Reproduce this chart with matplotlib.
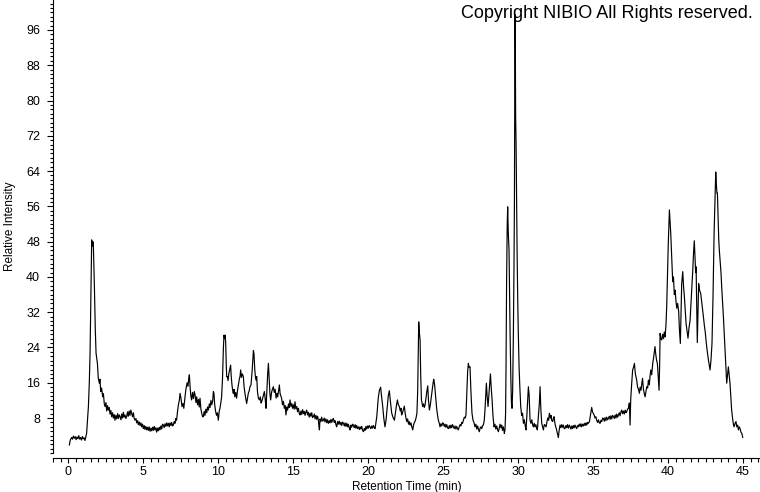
import matplotlib
matplotlib.use("Agg")
import matplotlib.pyplot as plt
from matplotlib.ticker import MultipleLocator, FixedLocator

plt.rcParams['font.family'] = ['Liberation Sans', 'DejaVu Sans']

# Chromatogram trace (time in min, relative intensity in %)
retention_time = [
    0.09, 0.15, 0.24, 0.30, 0.36, 0.42, 0.48, 0.54, 0.60, 0.66, 0.72, 0.78, 0.84, 0.90, 0.96, 1.02, 1.08, 1.13, 1.18, 1.24,
    1.30, 1.36, 1.42, 1.47, 1.52, 1.58, 1.62, 1.66, 1.69, 1.73, 1.76, 1.82, 1.87, 1.92, 1.96, 2.02, 2.09, 2.13, 2.18, 2.24,
    2.31, 2.36, 2.42, 2.47, 2.53, 2.58, 2.64, 2.69, 2.75, 2.80, 2.86, 2.91, 2.97, 3.02, 3.08, 3.13, 3.19, 3.25, 3.31, 3.36,
    3.42, 3.47, 3.53, 3.58, 3.64, 3.69, 3.75, 3.80, 3.86, 3.91, 3.97, 4.02, 4.08, 4.13, 4.19, 4.24, 4.30, 4.36, 4.41, 4.47,
    4.53, 4.58, 4.64, 4.69, 4.75, 4.80, 4.86, 4.91, 4.97, 5.02, 5.08, 5.13, 5.19, 5.25, 5.30, 5.36, 5.41, 5.47, 5.53, 5.58,
    5.64, 5.69, 5.75, 5.80, 5.86, 5.91, 5.97, 6.02, 6.08, 6.13, 6.19, 6.25, 6.30, 6.36, 6.41, 6.47, 6.53, 6.58, 6.64, 6.69,
    6.75, 6.80, 6.86, 6.91, 6.97, 7.02, 7.08, 7.13, 7.19, 7.24, 7.30, 7.36, 7.42, 7.47, 7.53, 7.60, 7.66, 7.72, 7.80, 7.86,
    7.94, 8.00, 8.05, 8.09, 8.14, 8.19, 8.24, 8.30, 8.36, 8.42, 8.47, 8.53, 8.58, 8.64, 8.70, 8.75, 8.80, 8.86, 8.92, 8.97,
    9.02, 9.08, 9.13, 9.19, 9.25, 9.30, 9.36, 9.42, 9.47, 9.53, 9.58, 9.64, 9.69, 9.73, 9.78, 9.84, 9.90, 9.96, 10.02, 10.08,
    10.13, 10.19, 10.24, 10.30, 10.36, 10.40, 10.44, 10.47, 10.51, 10.55, 10.58, 10.62, 10.67, 10.72, 10.78, 10.84, 10.88, 10.93, 10.98, 11.02,
    11.07, 11.12, 11.18, 11.24, 11.30, 11.36, 11.42, 11.47, 11.51, 11.56, 11.62, 11.69, 11.74, 11.80, 11.86, 11.91, 11.97, 12.02, 12.08, 12.13,
    12.20, 12.27, 12.32, 12.36, 12.40, 12.45, 12.49, 12.53, 12.58, 12.63, 12.69, 12.76, 12.82, 12.87, 12.91, 12.97, 13.03, 13.09, 13.15, 13.20,
    13.26, 13.31, 13.36, 13.41, 13.46, 13.51, 13.57, 13.63, 13.69, 13.75, 13.81, 13.87, 13.93, 13.98, 14.04, 14.09, 14.14, 14.19, 14.24, 14.30,
    14.36, 14.42, 14.48, 14.53, 14.59, 14.64, 14.70, 14.75, 14.80, 14.86, 14.92, 14.97, 15.03, 15.08, 15.13, 15.19, 15.25, 15.30, 15.36, 15.42,
    15.47, 15.53, 15.58, 15.64, 15.70, 15.75, 15.80, 15.86, 15.91, 15.97, 16.02, 16.08, 16.14, 16.19, 16.25, 16.30, 16.36, 16.42, 16.47, 16.53,
    16.58, 16.64, 16.69, 16.73, 16.76, 16.80, 16.86, 16.91, 16.97, 17.02, 17.08, 17.13, 17.19, 17.25, 17.30, 17.36, 17.42, 17.47, 17.53, 17.58,
    17.64, 17.69, 17.75, 17.80, 17.86, 17.91, 17.97, 18.02, 18.08, 18.14, 18.19, 18.25, 18.30, 18.36, 18.42, 18.47, 18.53, 18.58, 18.64, 18.69,
    18.75, 18.80, 18.86, 18.91, 18.97, 19.02, 19.08, 19.14, 19.19, 19.25, 19.30, 19.36, 19.42, 19.47, 19.53, 19.58, 19.64, 19.69, 19.75, 19.80,
    19.86, 19.91, 19.97, 20.02, 20.08, 20.13, 20.19, 20.25, 20.30, 20.36, 20.42, 20.47, 20.53, 20.58, 20.62, 20.68, 20.76, 20.84, 20.90, 20.98,
    21.05, 21.13, 21.20, 21.28, 21.35, 21.42, 21.50, 21.58, 21.66, 21.76, 21.84, 21.90, 21.96, 22.02, 22.09, 22.15, 22.20, 22.24, 22.30, 22.36,
    22.42, 22.48, 22.53, 22.58, 22.64, 22.70, 22.75, 22.80, 22.86, 22.92, 22.98, 23.04, 23.09, 23.13, 23.20, 23.26, 23.31, 23.35, 23.38, 23.42,
    23.47, 23.51, 23.56, 23.60, 23.64, 23.70, 23.75, 23.80, 23.86, 23.92, 23.98, 24.03, 24.09, 24.15, 24.22, 24.28, 24.34, 24.38, 24.44, 24.49,
    24.53, 24.58, 24.64, 24.69, 24.75, 24.80, 24.86, 24.92, 24.97, 25.02, 25.08, 25.14, 25.19, 25.25, 25.30, 25.36, 25.42, 25.47, 25.53, 25.58,
    25.64, 25.69, 25.75, 25.80, 25.86, 25.91, 25.97, 26.02, 26.08, 26.14, 26.19, 26.25, 26.30, 26.36, 26.42, 26.48, 26.53, 26.58, 26.64, 26.69,
    26.74, 26.80, 26.86, 26.93, 27.00, 27.06, 27.13, 27.19, 27.25, 27.31, 27.36, 27.42, 27.48, 27.53, 27.58, 27.64, 27.69, 27.75, 27.80, 27.85,
    27.89, 27.94, 28.00, 28.06, 28.12, 28.16, 28.21, 28.27, 28.33, 28.40, 28.46, 28.52, 28.58, 28.64, 28.69, 28.75, 28.80, 28.86, 28.91, 28.96,
    29.02, 29.09, 29.13, 29.17, 29.20, 29.24, 29.28, 29.31, 29.35, 29.40, 29.44, 29.47, 29.52, 29.56, 29.60, 29.64, 29.69, 29.73, 29.76, 29.79,
    29.80, 29.82, 29.84, 29.87, 29.91, 29.94, 29.98, 30.02, 30.07, 30.12, 30.18, 30.24, 30.30, 30.36, 30.42, 30.48, 30.53, 30.58, 30.64, 30.69,
    30.74, 30.80, 30.86, 30.92, 30.97, 31.02, 31.08, 31.13, 31.19, 31.24, 31.29, 31.35, 31.42, 31.47, 31.52, 31.58, 31.64, 31.69, 31.75, 31.80,
    31.87, 31.93, 31.98, 32.04, 32.09, 32.15, 32.20, 32.24, 32.31, 32.36, 32.40, 32.46, 32.51, 32.56, 32.60, 32.65, 32.69, 32.74, 32.80, 32.86,
    32.91, 32.97, 33.02, 33.08, 33.13, 33.19, 33.25, 33.30, 33.36, 33.42, 33.47, 33.53, 33.58, 33.64, 33.69, 33.75, 33.80, 33.86, 33.91, 33.97,
    34.02, 34.08, 34.14, 34.19, 34.24, 34.30, 34.36, 34.42, 34.47, 34.53, 34.58, 34.64, 34.69, 34.76, 34.82, 34.88, 34.91, 34.96, 35.02, 35.07,
    35.13, 35.19, 35.24, 35.30, 35.36, 35.42, 35.47, 35.53, 35.58, 35.64, 35.69, 35.75, 35.80, 35.86, 35.91, 35.97, 36.02, 36.08, 36.14, 36.19,
    36.25, 36.30, 36.36, 36.42, 36.47, 36.53, 36.58, 36.64, 36.69, 36.75, 36.80, 36.86, 36.91, 36.97, 37.02, 37.08, 37.14, 37.19, 37.24, 37.30,
    37.36, 37.42, 37.47, 37.51, 37.57, 37.64, 37.70, 37.76, 37.82, 37.91, 37.97, 38.03, 38.09, 38.14, 38.20, 38.25, 38.30, 38.36, 38.42, 38.47,
    38.53, 38.58, 38.64, 38.69, 38.75, 38.80, 38.85, 38.91, 38.98, 39.05, 39.13, 39.18, 39.24, 39.29, 39.34, 39.40, 39.44, 39.47, 39.52, 39.58,
    39.64, 39.70, 39.75, 39.80, 39.86, 39.91, 39.96, 40.02, 40.09, 40.13, 40.18, 40.24, 40.31, 40.36, 40.42, 40.47, 40.53, 40.58, 40.64, 40.71,
    40.76, 40.82, 40.87, 40.91, 40.95, 40.98, 41.03, 41.09, 41.15, 41.20, 41.26, 41.33, 41.40, 41.47, 41.53, 41.58, 41.64, 41.70, 41.75, 41.80,
    41.84, 41.87, 41.91, 41.95, 42.00, 42.04, 42.10, 42.18, 42.24, 42.30, 42.36, 42.42, 42.48, 42.53, 42.60, 42.69, 42.75, 42.80, 42.86, 42.93,
    43.00, 43.07, 43.13, 43.18, 43.22, 43.26, 43.29, 43.33, 43.38, 43.42, 43.47, 43.53, 43.58, 43.64, 43.69, 43.75, 43.80, 43.86, 43.91, 43.96,
    44.02, 44.07, 44.13, 44.19, 44.24, 44.30, 44.36, 44.40, 44.47, 44.53, 44.58, 44.64, 44.69, 44.75, 44.80, 44.86, 44.92, 44.98,
]

relative_intensity = [
    1.9, 3.0, 3.6, 3.2, 3.9, 3.4, 3.8, 3.1, 3.7, 3.3, 4.0, 3.2, 3.6, 3.0, 3.8, 3.3, 3.5, 2.9, 3.6, 4.5,
    7.5, 10.6, 16.0, 22.7, 35.0, 48.4, 47.0, 48.0, 47.2, 42.0, 37.8, 28.0, 22.7, 21.5, 20.4, 17.0, 15.9, 16.8, 14.0, 14.8,
    12.8, 13.5, 11.2, 10.6, 11.5, 9.6, 10.8, 9.8, 10.4, 8.9, 9.7, 8.3, 9.2, 8.0, 8.8, 7.5, 8.6, 7.8, 9.0, 7.9,
    8.7, 8.3, 7.6, 8.9, 8.0, 9.3, 8.2, 8.7, 7.9, 8.3, 9.4, 8.4, 9.6, 8.6, 9.8, 9.1, 8.3, 9.2, 7.9, 7.5,
    7.9, 6.9, 7.4, 6.5, 7.1, 6.3, 6.9, 6.0, 6.6, 5.6, 6.3, 5.4, 6.1, 5.3, 5.9, 5.2, 6.0, 5.0, 5.7, 5.1,
    5.9, 5.2, 6.1, 5.3, 5.8, 4.8, 5.7, 5.1, 5.9, 5.3, 6.2, 5.5, 6.6, 6.4, 5.8, 6.7, 6.1, 6.9, 6.2, 6.8,
    6.0, 6.9, 6.3, 7.0, 6.2, 6.4, 7.2, 6.8, 7.9, 7.5, 9.5, 11.0, 12.0, 13.6, 12.5, 10.6, 11.3, 10.2, 12.8, 14.5,
    16.0, 15.2, 17.0, 17.8, 15.0, 13.0, 12.1, 13.8, 12.4, 14.0, 13.2, 11.5, 12.8, 11.0, 12.2, 10.5, 12.5, 10.0, 9.0, 8.3,
    8.3, 9.5, 8.6, 10.0, 9.2, 10.5, 9.8, 11.2, 10.4, 12.0, 11.0, 11.7, 14.0, 13.6, 11.0, 9.5, 8.6, 9.2, 7.5, 9.5,
    10.2, 11.5, 12.8, 17.0, 24.0, 26.8, 26.0, 26.8, 25.3, 20.0, 17.4, 17.4, 16.5, 18.0, 19.0, 20.0, 17.5, 15.5, 14.2, 13.6,
    14.5, 12.8, 13.8, 12.5, 14.3, 15.5, 16.8, 17.5, 18.9, 17.2, 18.0, 17.4, 15.0, 13.5, 12.2, 11.3, 12.5, 13.6, 14.2, 15.1,
    15.5, 18.5, 21.0, 23.3, 22.5, 19.0, 17.5, 16.6, 17.4, 14.0, 12.5, 12.1, 12.8, 11.4, 11.7, 12.4, 13.2, 14.0, 12.2, 10.2,
    14.5, 18.0, 20.4, 17.0, 13.5, 12.1, 13.8, 14.6, 15.1, 13.8, 14.5, 12.5, 13.6, 12.8, 14.2, 15.5, 13.5, 13.0, 12.5, 11.0,
    11.8, 10.2, 10.8, 8.7, 10.5, 9.8, 11.2, 10.4, 12.1, 10.6, 11.3, 10.2, 11.0, 10.0, 11.7, 10.1, 10.6, 9.4, 10.2, 9.0,
    8.7, 9.6, 8.8, 9.9, 9.0, 9.5, 8.6, 9.4, 9.8, 8.7, 9.3, 8.2, 9.1, 8.4, 9.2, 8.1, 8.3, 8.9, 7.8, 8.6,
    7.7, 8.4, 7.5, 6.0, 5.3, 7.8, 7.2, 8.2, 7.3, 7.5, 8.0, 7.1, 7.8, 6.9, 7.6, 6.8, 7.4, 6.9, 7.7, 7.0,
    7.6, 7.9, 7.0, 7.4, 6.5, 6.0, 7.2, 6.6, 7.3, 6.5, 7.0, 6.3, 7.1, 6.8, 6.2, 6.9, 6.1, 6.8, 6.0, 6.6,
    5.8, 5.3, 6.4, 5.9, 6.6, 6.4, 5.8, 6.5, 5.7, 6.3, 5.6, 6.0, 5.4, 6.0, 5.5, 6.1, 5.2, 4.9, 5.6, 5.2,
    6.1, 5.5, 6.2, 5.7, 6.3, 6.0, 5.6, 6.2, 5.7, 6.3, 5.8, 5.6, 7.0, 8.2, 9.8, 12.5, 14.3, 15.0, 13.0, 10.6,
    8.0, 6.0, 7.5, 10.5, 13.0, 14.2, 11.5, 9.1, 8.2, 7.5, 9.5, 11.0, 12.1, 11.0, 10.6, 9.6, 10.2, 8.7, 9.2, 10.0,
    10.7, 9.0, 8.0, 7.2, 7.8, 6.6, 7.2, 6.4, 6.9, 6.0, 5.3, 6.5, 7.0, 7.2, 8.0, 9.1, 14.0, 24.0, 29.8, 27.5,
    25.7, 18.0, 12.1, 11.5, 10.6, 11.2, 10.4, 10.9, 12.5, 14.0, 15.3, 12.0, 9.8, 10.9, 12.8, 14.5, 16.0, 16.8, 15.5, 13.5,
    12.1, 10.0, 8.5, 7.5, 6.8, 6.0, 6.7, 6.2, 6.9, 6.8, 6.1, 6.6, 5.9, 6.5, 5.8, 5.6, 6.3, 5.7, 6.4, 5.8,
    6.5, 6.0, 5.6, 6.2, 5.5, 6.1, 5.6, 5.3, 6.0, 6.5, 6.2, 7.0, 6.8, 7.5, 8.2, 8.0, 8.7, 13.0, 18.5, 20.4,
    19.5, 19.6, 14.0, 9.1, 7.5, 7.0, 6.0, 6.6, 5.5, 6.2, 5.4, 4.9, 5.8, 6.0, 5.6, 6.3, 6.4, 7.5, 10.0, 13.5,
    15.9, 13.0, 10.6, 13.5, 16.5, 18.0, 15.0, 12.1, 8.5, 6.0, 6.6, 5.5, 6.2, 5.3, 4.9, 5.7, 6.6, 5.8, 6.4, 5.2,
    6.0, 4.5, 5.3, 9.0, 19.6, 40.0, 52.0, 55.9, 50.0, 46.1, 35.0, 27.2, 17.0, 11.5, 10.2, 14.0, 27.2, 42.0, 57.4, 85.0,
    99.5, 92.0, 76.4, 70.0, 54.4, 45.0, 34.8, 27.0, 19.6, 15.0, 10.6, 8.6, 9.1, 6.8, 7.6, 6.2, 5.3, 8.0, 12.0, 15.1,
    13.2, 7.5, 6.8, 7.6, 6.5, 6.0, 6.8, 6.0, 6.5, 5.7, 5.3, 8.0, 11.3, 15.1, 10.0, 6.8, 6.0, 5.3, 6.5, 6.4,
    6.0, 7.2, 8.0, 7.5, 9.1, 8.0, 8.6, 7.5, 7.2, 8.0, 8.3, 6.8, 6.0, 5.5, 4.8, 4.2, 3.6, 5.2, 6.4, 5.8,
    6.5, 5.9, 6.4, 5.6, 5.6, 6.3, 5.8, 6.5, 5.7, 6.4, 6.0, 5.5, 6.2, 5.6, 6.3, 5.8, 6.4, 5.9, 5.6, 6.3,
    6.0, 6.6, 6.1, 6.7, 6.0, 6.6, 6.2, 6.8, 6.3, 6.9, 6.4, 7.0, 6.8, 7.2, 8.5, 9.8, 10.4, 9.5, 9.0, 8.7,
    8.0, 8.3, 7.5, 7.0, 7.6, 6.9, 6.8, 7.5, 7.2, 8.0, 7.9, 7.3, 8.1, 7.4, 8.2, 7.6, 7.9, 8.4, 7.7, 8.5,
    7.8, 8.6, 8.3, 7.9, 8.7, 8.0, 8.9, 8.2, 8.7, 9.2, 8.5, 9.4, 9.8, 9.0, 9.6, 8.9, 9.8, 9.2, 9.4, 10.0,
    10.2, 11.4, 6.4, 12.1, 15.5, 18.9, 19.5, 20.4, 18.0, 16.6, 15.0, 14.5, 13.6, 15.0, 14.3, 15.8, 17.0, 14.5, 13.5, 12.8,
    14.0, 15.1, 14.8, 16.6, 15.5, 17.5, 18.9, 17.8, 20.4, 22.0, 24.2, 22.5, 21.0, 20.4, 17.5, 14.3, 20.0, 27.2, 26.0, 25.7,
    27.0, 26.0, 27.5, 26.4, 29.0, 33.2, 40.0, 48.0, 55.2, 53.0, 49.9, 45.0, 38.9, 40.0, 36.0, 37.0, 34.5, 32.9, 34.0, 32.1,
    28.0, 24.9, 32.0, 38.5, 40.0, 41.2, 38.0, 35.5, 32.0, 29.5, 28.0, 26.1, 28.5, 30.2, 34.0, 37.0, 41.0, 45.5, 48.2, 44.0,
    41.0, 42.3, 33.0, 25.1, 32.0, 38.5, 37.0, 36.2, 34.5, 33.0, 30.9, 29.0, 27.5, 25.7, 23.5, 21.2, 20.0, 18.9, 21.0, 24.9,
    36.0, 49.9, 58.0, 63.8, 61.0, 59.0, 59.0, 54.0, 48.5, 46.0, 43.8, 41.0, 37.5, 34.0, 31.0, 27.0, 23.4, 19.5, 15.9, 17.5,
    19.6, 18.0, 15.9, 12.5, 9.8, 8.0, 6.5, 6.0, 6.8, 7.2, 6.0, 6.4, 5.3, 6.0, 5.6, 4.8, 4.5, 3.6,
]

x_major_ticks = [0, 5, 10, 15, 20, 25, 30, 35, 40, 45]
y_major_ticks = [8, 16, 24, 32, 40, 48, 56, 64, 72, 80, 88, 96]
x_label = "Retention Time (min)"
y_label = "Relative Intensity"
copyright_text = "Copyright NIBIO All Rights reserved."

W, H = 760, 492
fig = plt.figure(figsize=(W / 100, H / 100), dpi=100)
ax = fig.add_axes([53 / W, 1 - 453.3 / H, (W - 53) / W, 453.3 / H])

ax.plot(retention_time, relative_intensity, color="black", lw=0.85)

ax.set_xlim(-1, 46.13)
ax.set_ylim(0, 102.8)

for s in ("top", "right"):
    ax.spines[s].set_visible(False)
ax.spines["bottom"].set_position(("outward", 3.5))
ax.spines["left"].set_linewidth(0.8)
ax.spines["bottom"].set_linewidth(0.8)

ax.xaxis.set_major_locator(FixedLocator(x_major_ticks))
ax.xaxis.set_minor_locator(MultipleLocator(0.5))
ax.yaxis.set_major_locator(FixedLocator(y_major_ticks))
ax.yaxis.set_minor_locator(MultipleLocator(1))

ax.tick_params(axis="y", which="major", length=4.3, width=0.8, labelsize=9, pad=5, direction="out")
ax.tick_params(axis="y", which="minor", length=2.5, width=0.8, direction="out")
ax.tick_params(axis="x", which="major", length=3.6, width=0.8, labelsize=9, pad=2, direction="out")
ax.tick_params(axis="x", which="minor", length=3.0, width=0.8, direction="out")

ax.set_xlabel(x_label, fontsize=8.5, labelpad=2)
ax.set_ylabel(y_label, fontsize=8.5, labelpad=7)

fig.text(753 / W, 1 - 14 / H, copyright_text, ha="right", va="center", fontsize=13, color="black")

fig.savefig("out.png", dpi=100)
